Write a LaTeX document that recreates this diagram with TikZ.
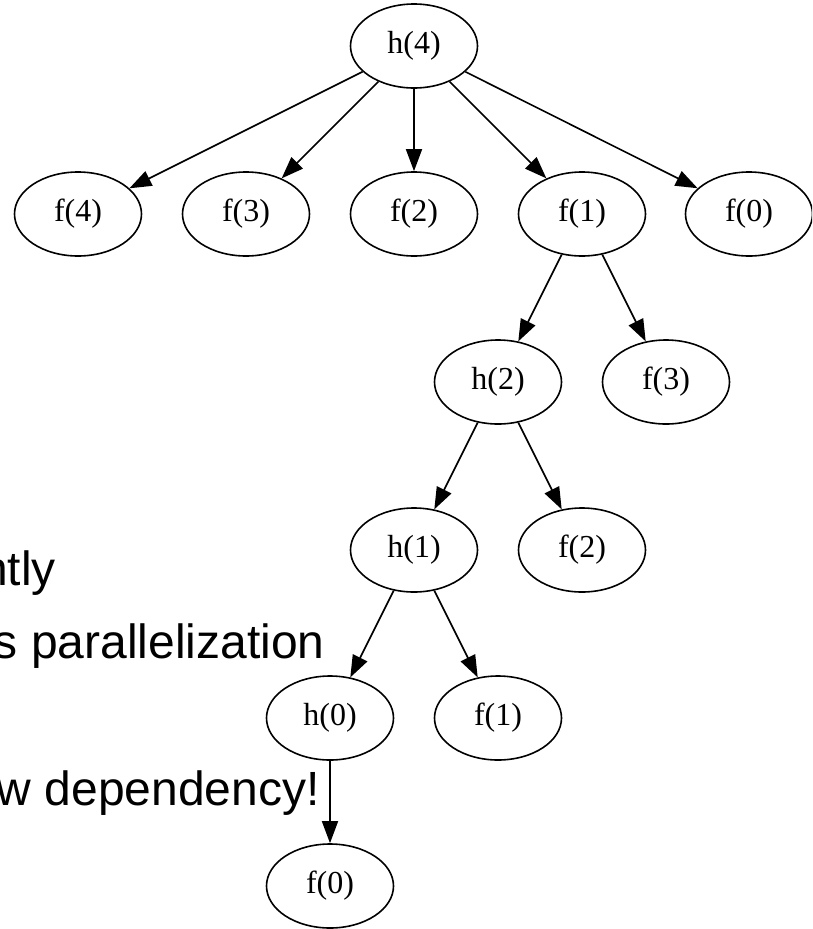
\documentclass[tikz,border=0pt]{standalone}
\usepackage{fontspec}
\setmainfont{Liberation Serif}
\newfontfamily\arialfont{Liberation Sans}
\usetikzlibrary{shapes.geometric,arrows.meta}
\begin{document}
\begin{tikzpicture}[x=1pt,y=1pt,
  gnode/.style={ellipse,draw,line width=1.6pt,minimum width=127pt,minimum height=84pt,inner sep=0pt,font=\fontsize{32}{36}\selectfont},
  garrow/.style={line width=1.6pt,-{Triangle[length=22pt,width=16pt]}},
  slidetext/.style={anchor=base east,inner sep=0pt,font=\arialfont\fontsize{48}{56}\selectfont}
]
\useasboundingbox (0,0) rectangle (812,-929);
\clip (0,0) rectangle (812,-929);
\fill[white] (0,0) rectangle (812,-929);

% slide text (partly hidden at the left edge)
\node[slidetext] (t1) at (56,-585) {ntly};
\node[slidetext] (t2) at (325,-658) {s parallelization};
\node[slidetext] (t3) at (320,-805) {w dependency!};

% nodes
\node[gnode] (h4) at (414,-46) {h(4)};
\node[gnode] (f4a) at (78,-214) {f(4)};
\node[gnode] (f3a) at (246,-214) {f(3)};
\node[gnode] (f2a) at (414,-214) {f(2)};
\node[gnode] (f1a) at (582,-214) {f(1)};
\node[gnode] (f0a) at (749,-214) {f(0)};
\node[gnode] (h2) at (498,-382) {h(2)};
\node[gnode] (f3b) at (666,-382) {f(3)};
\node[gnode] (h1) at (414,-550) {h(1)};
\node[gnode] (f2b) at (582,-550) {f(2)};
\node[gnode] (h0) at (330,-718) {h(0)};
\node[gnode] (f1b) at (498,-718) {f(1)};
\node[gnode] (f0b) at (330,-886) {f(0)};

% edges
\draw[garrow] (h4) -- (f4a);
\draw[garrow] (h4) -- (f3a);
\draw[garrow] (h4) -- (f2a);
\draw[garrow] (h4) -- (f1a);
\draw[garrow] (h4) -- (f0a);
\draw[garrow] (f1a) -- (h2);
\draw[garrow] (f1a) -- (f3b);
\draw[garrow] (h2) -- (h1);
\draw[garrow] (h2) -- (f2b);
\draw[garrow] (h1) -- (h0);
\draw[garrow] (h1) -- (f1b);
\draw[garrow] (h0) -- (f0b);
\end{tikzpicture}
\end{document}
